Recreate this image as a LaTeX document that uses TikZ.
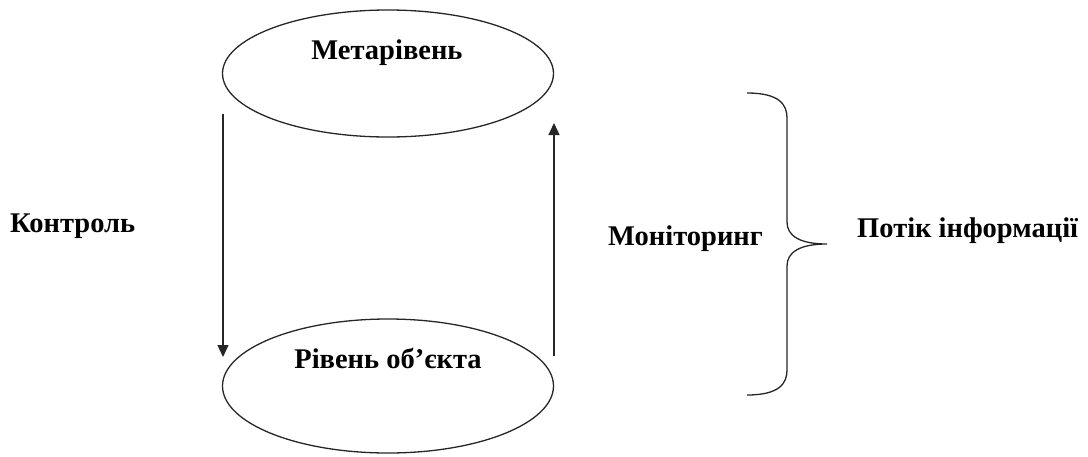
\documentclass[tikz,border=0pt]{standalone}
\usepackage{fontspec}
\setmainfont{Liberation Serif}
\usetikzlibrary{arrows.meta}
\begin{document}
\begin{tikzpicture}[x=1pt,y=-1pt,
  line/.style={draw=black!85,line width=1.3pt},
  lbl/.style={font=\fontsize{28.5}{32}\selectfont\bfseries,inner sep=0pt},
  arr/.style={line,-{Triangle[length=12pt,width=11pt]}}]
\useasboundingbox (0,0) rectangle (1088,456);
\draw[line] (388,73.5) ellipse [x radius=165.5, y radius=63.5];
\draw[line] (388,386) ellipse [x radius=165.5, y radius=67];
\node[lbl] (meta) at (387,53) {Метарівень};
\node[lbl] (obj) at (388,358) {Рівень об’єкта};
\coordinate (la) at (223,114);
\coordinate (lb) at (223,357);
\coordinate (ra) at (554,356);
\coordinate (rb) at (554,123);
\draw[arr] (la) -- (lb);
\draw[arr] (ra) -- (rb);
\node[lbl,anchor=west] (ctrl) at (10,226) {Контроль};
\node[lbl,anchor=west] (mon) at (608,239) {Моніторинг};
\node[lbl,anchor=west] (flow) at (857,231) {Потік інформації};
\coordinate (tip) at (827,244);
\draw[line] (747,93) .. controls (780,93) and (787,105) .. (787,118)
  -- (787,222) .. controls (787,236) and (800,244) .. (tip)
  .. controls (800,244) and (787,252) .. (787,266)
  -- (787,370) .. controls (787,383) and (780,395) .. (747,395);
\end{tikzpicture}
\end{document}
